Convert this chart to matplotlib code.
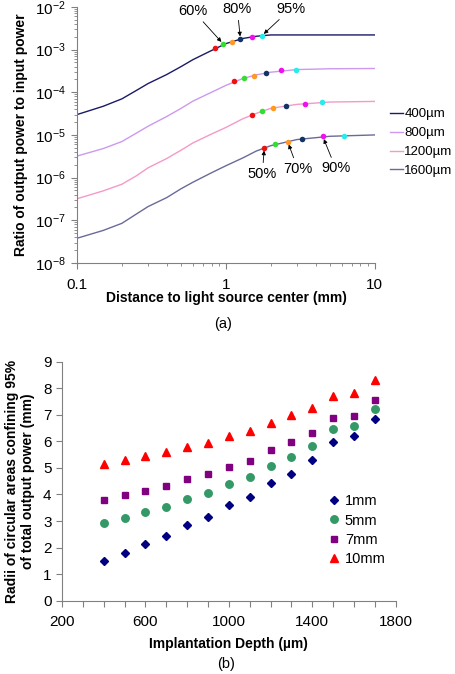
import matplotlib
matplotlib.use('Agg')
import matplotlib.pyplot as plt
from matplotlib.ticker import LogLocator, MultipleLocator, NullFormatter

plt.rcParams['font.family'] = ['Liberation Sans', 'DejaVu Sans']

# (a) ratio of output power vs distance, one curve per implantation depth
depths = ['400µm', '800µm', '1200µm', '1600µm']
line_colors = ['#1a1a66', '#cc99ee', '#f599c8', '#6a6a99']
dist = [0.1, 0.15, 0.2, 0.25, 0.3, 0.4, 0.5, 0.6, 0.8, 1.0, 1.3, 1.6, 2.0, 3.0, 5.0, 10.0]
ratio_400 = [3.0e-5, 4.7e-5, 7.0e-5, 1.1e-4, 1.6e-4, 2.6e-4, 4.0e-4, 5.8e-4, 9.5e-4,
             1.38e-3, 1.82e-3, 2.05e-3, 2.2e-3, 2.2e-3, 2.2e-3, 2.2e-3]
ratio_800 = [3.2e-6, 4.8e-6, 7.0e-6, 1.1e-5, 1.6e-5, 2.7e-5, 4.2e-5, 6.2e-5, 1.0e-4,
             1.45e-4, 2.1e-4, 2.55e-4, 2.95e-4, 3.4e-4, 3.55e-4, 3.6e-4]
ratio_1200 = [3.2e-7, 4.9e-7, 7.0e-7, 1.1e-6, 1.7e-6, 2.8e-6, 4.4e-6, 6.5e-6, 1.05e-5,
              1.5e-5, 2.4e-5, 3.2e-5, 4.2e-5, 5.2e-5, 5.9e-5, 6.1e-5]
ratio_1600 = [3.8e-8, 5.8e-8, 8.5e-8, 1.4e-7, 2.1e-7, 3.4e-7, 5.5e-7, 7.8e-7, 1.3e-6,
              1.9e-6, 2.9e-6, 4.2e-6, 5.6e-6, 7.8e-6, 9.3e-6, 1.0e-5]
ratios = [ratio_400, ratio_800, ratio_1200, ratio_1600]

# percentage markers (50, 60, 70, 80, 90, 95 %) on each curve
pct_labels = ['50%', '60%', '70%', '80%', '90%', '95%']
pct_colors = ['#ee1111', '#33dd33', '#ff9922', '#113366', '#ee11ee', '#22eeee']
pct_x = [[0.85, 0.96, 1.09, 1.25, 1.49, 1.74],
         [1.14, 1.32, 1.54, 1.85, 2.36, 2.97],
         [1.49, 1.74, 2.07, 2.52, 3.4, 4.45],
         [1.81, 2.14, 2.6, 3.23, 4.47, 6.2]]
pct_y = [[1.1e-3, 1.35e-3, 1.5e-3, 1.75e-3, 1.95e-3, 2.1e-3],
         [1.86e-4, 2.15e-4, 2.45e-4, 2.9e-4, 3.25e-4, 3.4e-4],
         [3.0e-5, 3.7e-5, 4.3e-5, 4.8e-5, 5.4e-5, 5.8e-5],
         [5.0e-6, 6.0e-6, 6.9e-6, 8.1e-6, 9.2e-6, 9.6e-6]]

# (b) radii confining 95% of output power vs implantation depth
impl_depth = [400, 500, 600, 700, 800, 900, 1000, 1100, 1200, 1300, 1400, 1500, 1600, 1700]
radius_1mm = [1.48, 1.81, 2.13, 2.44, 2.85, 3.14, 3.60, 3.90, 4.42, 4.77, 5.30, 5.96, 6.20, 6.85]
radius_5mm = [2.92, 3.13, 3.33, 3.54, 3.84, 4.07, 4.39, 4.66, 5.08, 5.42, 5.84, 6.48, 6.58, 7.22]
radius_7mm = [3.80, 3.97, 4.14, 4.33, 4.57, 4.77, 5.05, 5.27, 5.66, 5.96, 6.33, 6.88, 6.97, 7.57]
radius_10mm = [5.16, 5.30, 5.45, 5.60, 5.80, 5.95, 6.19, 6.38, 6.69, 6.98, 7.25, 7.71, 7.82, 8.31]
sizes_b = ['1mm', '5mm', '7mm', '10mm']

fig = plt.figure(figsize=(4.56, 6.74), dpi=100)

# ---------- (a) ----------
ax1 = fig.add_axes([0.169, 0.6098, 0.653, 0.38])
for r, c, lab in zip(ratios, line_colors, depths):
    ax1.plot(dist, r, color=c, lw=1.0, label=lab)
for i in range(4):
    for j in range(6):
        ax1.plot(pct_x[i][j], pct_y[i][j], 'o', ms=4.0, color=pct_colors[j], mec='none', zorder=5)

ax1.set_xscale('log')
ax1.set_yscale('log')
ax1.set_xlim(0.1, 10)
ax1.set_ylim(1e-8, 1e-2)
ax1.set_xticks([0.1, 1, 10])
ax1.set_xticklabels(['0.1', '1', '10'])
ax1.xaxis.set_minor_locator(LogLocator(base=10, subs=range(2, 10)))
ax1.xaxis.set_minor_formatter(NullFormatter())
ax1.yaxis.set_major_locator(LogLocator(base=10, numticks=10))
ax1.yaxis.set_minor_locator(LogLocator(base=10, subs=range(2, 10), numticks=10))
ax1.yaxis.set_minor_formatter(NullFormatter())
for s in ['top', 'right']:
    ax1.spines[s].set_visible(False)
for s in ['left', 'bottom']:
    ax1.spines[s].set_color('#808080')
ax1.tick_params(which='major', length=4, width=0.8, color='#808080', labelsize=11, pad=4)
ax1.tick_params(which='minor', length=2.5, width=0.6, color='#808080')
ax1.tick_params(axis='x', pad=7)
ax1.set_xlabel('Distance to light source center (mm)', fontsize=10, fontweight='bold', labelpad=-1)
ax1.set_ylabel('Ratio of output power to input power', fontsize=10, fontweight='bold', labelpad=5)

# annotations: (curve, pct index, offset in pixels)
notes = [(0, 1, (-30, 33)), (0, 3, (-3, 30)), (0, 5, (29, 27)),
         (3, 0, (-2, -26)), (3, 2, (10, -27)), (3, 4, (13, -32))]
for ci, pj, off in notes:
    ax1.annotate(pct_labels[pj], xy=(pct_x[ci][pj], pct_y[ci][pj]), xytext=off,
                 textcoords='offset pixels', ha='center', va='center', fontsize=10.5,
                 arrowprops=dict(arrowstyle='-|>', color='black', lw=0.6,
                                 mutation_scale=6, shrinkA=1, shrinkB=2))

ax1.legend(loc='center left', bbox_to_anchor=(1.05, 0.47), frameon=False,
           fontsize=9.5, handlelength=1.0, handletextpad=0.1, labelspacing=0.5,
           borderpad=0, borderaxespad=0)
fig.text(0.49, 1 - 324 / 674, '(a)', ha='center', va='center', fontsize=10.5)

# ---------- (b) ----------
ax2 = fig.add_axes([0.136, 0.1088, 0.732, 0.3546])
ax2.plot(impl_depth, radius_1mm, 'D', color='#000080', ms=4.5, ls='none', label=sizes_b[0])
ax2.plot(impl_depth, radius_5mm, 'o', color='#339966', ms=5.4, ls='none', label=sizes_b[1])
ax2.plot(impl_depth, radius_7mm, 's', color='#800080', ms=5.0, ls='none', label=sizes_b[2])
ax2.plot(impl_depth, radius_10mm, '^', color='#ff0000', ms=6.0, ls='none', label=sizes_b[3])
ax2.set_xlim(200, 1800)
ax2.set_ylim(0, 9)
ax2.set_xticks([200, 600, 1000, 1400, 1800])
ax2.xaxis.set_minor_locator(MultipleLocator(100))
ax2.yaxis.set_major_locator(MultipleLocator(1))
for s in ['top', 'right']:
    ax2.spines[s].set_visible(False)
for s in ['left', 'bottom']:
    ax2.spines[s].set_color('#808080')
ax2.tick_params(which='major', length=4, width=0.8, color='#808080', labelsize=11)
ax2.tick_params(which='minor', length=4, width=0.8, color='#808080')
ax2.tick_params(axis='x', pad=6)
ax2.set_xlabel('Implantation Depth (µm)', fontsize=10, fontweight='bold', labelpad=6)
ax2.set_ylabel('Radii of circular areas confining 95%\nof total output power (mm)',
               fontsize=10, fontweight='bold', labelpad=6, linespacing=1.15)
ax2.legend(loc='upper left', bbox_to_anchor=(0.775, 0.475), frameon=False, fontsize=10.5,
           handlelength=0.8, handletextpad=0.35, labelspacing=0.35, borderpad=0)
fig.text(0.496, 1 - 664 / 674, '(b)', ha='center', va='center', fontsize=10.5)

fig.savefig('out.png', dpi=100)
